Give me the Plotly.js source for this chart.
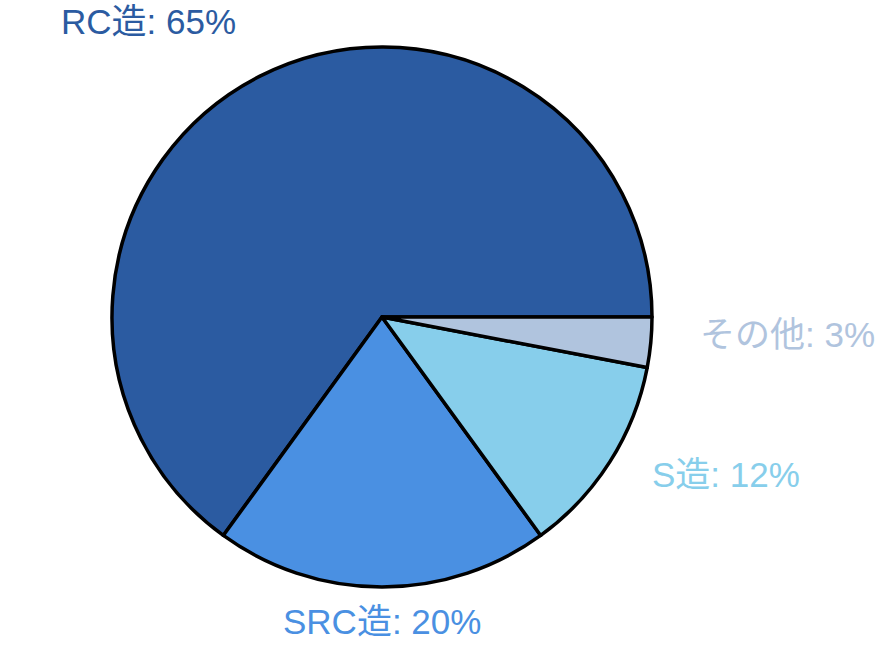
<!DOCTYPE html>
<html>
<head>
<meta charset="utf-8">
<script src="https://cdn.plot.ly/plotly-3.0.1.min.js"></script>
<style>html,body{margin:0;padding:0;background:#fff;}#chart{width:876px;height:645px;}</style>
</head>
<body>
<div id="chart"></div>
<script>
const categories = ["RC造", "SRC造", "S造", "その他"];
const shares = [65, 20, 12, 3];
const colors = ["#2B5BA1", "#4A90E2", "#87CEEB", "#B0C4DE"];

const W = 876, H = 645;
const margin = {l: 112, r: 224, t: 47, b: 58};
const plotW = W - margin.l - margin.r;
const plotH = H - margin.t - margin.b;
const radius = Math.min(plotW, plotH) / 2;
const labelDist = 1.175 * radius;
const fontFamily = "Liberation Sans, Arial, Noto Sans CJK JP, sans-serif";
const fontSize = 35;

const total = shares.reduce((a, b) => a + b, 0);
// Plotly counterclockwise pies end the first slice at `rotation`;
// choose rotation so the first slice starts at 3 o'clock going counterclockwise.
const rotation = 90 - 360 * shares[0] / total;

let cum = 0;
const annotations = categories.map((cat, i) => {
  const mid = (cum + shares[i] / 2) / total * 2 * Math.PI;
  cum += shares[i];
  const cx = Math.cos(mid), sy = Math.sin(mid);
  const xa = cx > 0.01 ? "left" : (cx < -0.01 ? "right" : "center");
  const px = labelDist * cx;
  const py = labelDist * sy + 0.36 * fontSize;
  return {
    xref: "paper", yref: "paper",
    x: 0.5 + px / plotW,
    y: 0.5 + py / plotH,
    xanchor: xa, yanchor: "middle",
    showarrow: false,
    text: cat + ": " + shares[i] + "%",
    font: {family: fontFamily, size: fontSize, color: colors[i]}
  };
});

const data = [{
  type: "pie",
  labels: categories,
  values: shares,
  sort: false,
  direction: "counterclockwise",
  rotation: rotation,
  textinfo: "none",
  hoverinfo: "label+percent",
  marker: {colors: colors, line: {color: "#000000", width: 3.5}},
  domain: {x: [0, 1], y: [0, 1]}
}];

const layout = {
  width: W, height: H,
  margin: margin,
  showlegend: false,
  paper_bgcolor: "#ffffff",
  plot_bgcolor: "#ffffff",
  font: {family: fontFamily},
  annotations: annotations
};

Plotly.newPlot("chart", data, layout, {displayModeBar: false, staticPlot: true});
</script>
</body>
</html>
